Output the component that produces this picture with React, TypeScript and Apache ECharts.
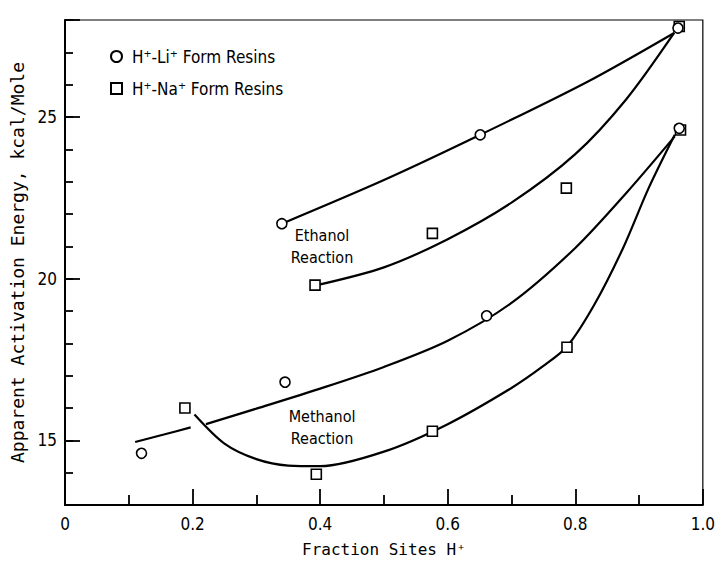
import React, { useEffect, useRef } from "react";
import * as echarts from "echarts";

// ---- data ----
const xTickValues = [0, 0.2, 0.4, 0.6, 0.8, 1.0];
const yLabelValues = [15, 20, 25];

const liSeriesName = "H⁺-Li⁺ Form Resins";
const naSeriesName = "H⁺-Na⁺ Form Resins";

// measured points (fraction H+, kcal/mole)
const liPoints: number[][] = [
  [0.12, 14.6],
  [0.345, 16.8],
  [0.661, 18.85],
  [0.963, 24.65],
  [0.34, 21.7],
  [0.651, 24.45],
  [0.961, 27.75],
];
const naPoints: number[][] = [
  [0.188, 16.0],
  [0.394, 13.95],
  [0.576, 15.28],
  [0.787, 17.88],
  [0.965, 24.6],
  [0.392, 19.8],
  [0.576, 21.4],
  [0.786, 22.8],
  [0.963, 27.8],
];

// hand-drawn fitted curves
const ethanolLiCurve: number[][] = [
  [0.34, 21.7],
  [0.5, 23.05],
  [0.651, 24.45],
  [0.82, 26.1],
  [0.955, 27.6],
];
const ethanolNaCurve: number[][] = [
  [0.395, 19.8],
  [0.5, 20.35],
  [0.6, 21.22],
  [0.7, 22.35],
  [0.8, 23.85],
  [0.88, 25.55],
  [0.955, 27.6],
];
const methanolLiCurveA: number[][] = [
  [0.11, 14.95],
  [0.155, 15.18],
  [0.197, 15.4],
];
const methanolLiCurveB: number[][] = [
  [0.221, 15.5],
  [0.3, 15.98],
  [0.4, 16.6],
  [0.5, 17.27],
  [0.6, 18.08],
  [0.7, 19.25],
  [0.8, 20.95],
  [0.88, 22.65],
  [0.956, 24.4],
];
const methanolNaCurve: number[][] = [
  [0.203, 15.8],
  [0.25, 14.9],
  [0.3, 14.42],
  [0.35, 14.22],
  [0.4, 14.2],
  [0.5, 14.65],
  [0.6, 15.5],
  [0.7, 16.62],
  [0.75, 17.3],
  [0.787, 17.9],
  [0.83, 19.2],
  [0.875, 20.95],
  [0.915, 22.8],
  [0.956, 24.45],
];

const annotations = [
  { text: "Ethanol\nReaction", at: [0.403, 21.0] },
  { text: "Methanol\nReaction", at: [0.403, 15.4] },
];

const FONT = '"DejaVu Sans Condensed", "Liberation Sans Narrow", "DejaVu Sans", sans-serif';
const MONO = '"DejaVu Sans Mono", "Liberation Mono", monospace';

export default function App() {
  const ref = useRef<HTMLDivElement>(null);

  useEffect(() => {
    document.body.style.margin = "0";
    if (!ref.current) return;
    const chart = echarts.init(ref.current, null, { renderer: "svg" });

    const curveSeries = (name: string, data: number[][]) => ({
      name,
      type: "line",
      data,
      smooth: 0.3,
      showSymbol: false,
      symbol: "none",
      silent: true,
      z: 2,
      lineStyle: { color: "#000", width: 2.2 },
    });

    const option: any = {
      animation: false,
      backgroundColor: "#fff",
      grid: {
        left: 65,
        right: 15,
        top: 20,
        bottom: 62,
        show: true,
        borderColor: "#000",
        borderWidth: 1.2,
        backgroundColor: "transparent",
      },
      legend: {
        orient: "vertical",
        left: 105,
        top: 43,
        itemGap: 15,
        itemWidth: 11,
        itemHeight: 11,
        data: [liSeriesName, naSeriesName],
        textStyle: {
          fontFamily: FONT,
          fontSize: 17,
          color: "#000",
          padding: [0, 0, 0, 5],
        },
      },
      xAxis: {
        type: "value",
        min: xTickValues[0],
        max: xTickValues[xTickValues.length - 1],
        interval: 0.2,
        name: "Fraction Sites H⁺",
        nameLocation: "middle",
        nameGap: 36,
        nameTextStyle: { fontFamily: MONO, fontSize: 16, color: "#000" },
        axisLine: { lineStyle: { color: "#000", width: 2 } },
        axisTick: { inside: true, length: 16, lineStyle: { color: "#000", width: 1.8 } },
        minorTick: { show: true, splitNumber: 2, length: 10, lineStyle: { color: "#000", width: 1.8 } },
        axisLabel: {
          margin: 10,
          fontFamily: FONT,
          fontSize: 17,
          color: "#000",
          formatter: (v: number) => (v === 0 ? "0" : v.toFixed(1)),
        },
        splitLine: { show: false },
      },
      yAxis: [
        {
          type: "value",
          min: 13,
          max: 28,
          interval: 1,
          name: "Apparent Activation Energy, kcal/Mole",
          nameLocation: "middle",
          nameGap: 36,
          nameTextStyle: { fontFamily: MONO, fontSize: 18, color: "#000" },
          axisLine: { lineStyle: { color: "#000", width: 2 } },
          axisTick: { inside: true, length: 8, lineStyle: { color: "#000", width: 1.8 } },
          axisLabel: {
            margin: 8,
            fontFamily: FONT,
            fontSize: 17,
            color: "#000",
            formatter: (v: number) => (yLabelValues.includes(v) ? String(v) : ""),
          },
          splitLine: { show: false },
        },
        {
          type: "value",
          min: 13,
          max: 28,
          splitNumber: 3,
          position: "left",
          axisLine: { show: false },
          axisTick: { show: true, inside: true, length: 15, lineStyle: { color: "#000", width: 1.8 } },
          axisLabel: { show: false },
          splitLine: { show: false },
        },
      ],
      series: [
        curveSeries("ethanolLi", ethanolLiCurve),
        curveSeries("ethanolNa", ethanolNaCurve),
        curveSeries("methanolLiA", methanolLiCurveA),
        curveSeries("methanolLiB", methanolLiCurveB),
        curveSeries("methanolNa", methanolNaCurve),
        {
          name: naSeriesName,
          type: "scatter",
          data: naPoints,
          symbol: "rect",
          symbolSize: 10,
          z: 5,
          itemStyle: { color: "#fff", borderColor: "#000", borderWidth: 1.6, opacity: 1 },
        },
        {
          name: liSeriesName,
          type: "scatter",
          data: liPoints,
          symbol: "circle",
          symbolSize: 10,
          z: 6,
          itemStyle: { color: "#fff", borderColor: "#000", borderWidth: 1.6, opacity: 1 },
        },
      ],
    };

    chart.setOption(option);

    const graphics = annotations.map((a) => {
      const p = chart.convertToPixel({ gridIndex: 0 }, a.at) as number[];
      return {
        type: "text",
        x: p[0],
        y: p[1],
        z: 10,
        style: {
          text: a.text,
          font: `16px ${FONT}`,
          fill: "#000",
          align: "center",
          textAlign: "center",
          verticalAlign: "middle",
          textVerticalAlign: "middle",
          lineHeight: 22,
        },
      };
    });
    chart.setOption({ graphic: graphics });

    return () => chart.dispose();
  }, []);

  return <div ref={ref} style={{ width: 718, height: 567 }} />;
}
